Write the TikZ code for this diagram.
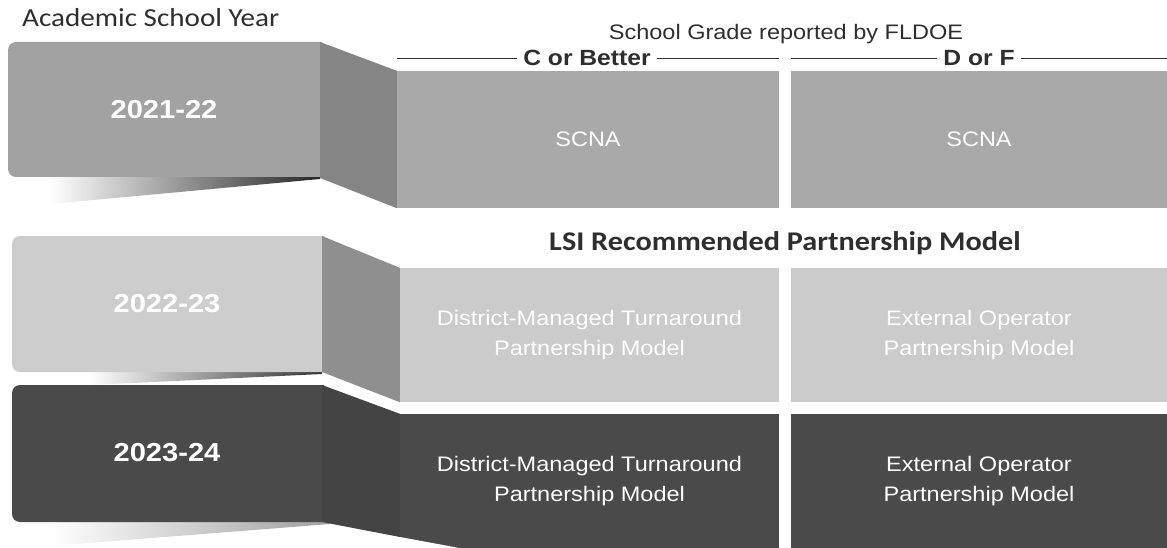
\documentclass[tikz,border=0pt]{standalone}
\usepackage{fontspec}
\newfontfamily\arialx[FakeStretch=1.12]{Liberation Sans}
\newfontfamily\calx[FakeStretch=1.12]{Carlito}
\usetikzlibrary{calc}

\definecolor{rowAbox}{HTML}{A2A2A2}
\definecolor{rowAcell}{HTML}{A9A9A9}
\definecolor{rowAfold}{HTML}{858585}
\definecolor{rowBbox}{HTML}{CDCDCD}
\definecolor{rowBcell}{HTML}{CBCBCB}
\definecolor{rowBfold}{HTML}{8F8F8F}
\definecolor{rowCbox}{HTML}{4A4A4A}
\definecolor{rowCfold}{HTML}{444444}
\definecolor{inkgrey}{HTML}{2E2E2E}

\begin{document}
\begin{tikzpicture}[x=1pt,y=-1pt,
  cellbox/.style={rectangle, inner sep=0pt, align=center, text=white,
    font=\arialx\fontsize{21}{30}\selectfont},
  yearlbl/.style={inner sep=0pt, text=white,
    font=\arialx\bfseries\fontsize{26}{30}\selectfont},
  gradehead/.style={anchor=base, inner xsep=6pt, inner ysep=0pt, text=inkgrey,
    font=\arialx\bfseries\fontsize{22}{25}\selectfont},
  headline/.style={draw=inkgrey, line width=0.9pt}]

\useasboundingbox (0,0) rectangle (1167,548);

% headings
\node[anchor=base west, inner sep=0pt, text=inkgrey,
  font=\calx\fontsize{26}{30}\selectfont] (asy) at (22,27) {Academic School Year};
\node[anchor=base, inner sep=0pt, text=inkgrey,
  font=\arialx\fontsize{21}{25}\selectfont] (sg) at (786,40) {School Grade reported by FLDOE};
\node[anchor=base, inner sep=0pt, text=inkgrey,
  font=\calx\bfseries\fontsize{27}{30}\selectfont] (lsi) at (785,250) {LSI Recommended Partnership Model};

% soft shadows under the year ribbons
\shade[left color=white, middle color=gray!70, right color=black!85]
  (50,176) -- (320,176) -- (320,179) -- (50,204) -- cycle;
\shade[left color=white, middle color=gray!80, right color=black!80]
  (90,371) -- (322,371) -- (322,374) -- (90,385) -- cycle;
\shade[left color=white, middle color=gray!35, right color=gray!75]
  (50,521) -- (330,521) -- (330,524) -- (50,546) -- cycle;

% year ribbons
\fill[rowAbox] (322,42) [rounded corners=8pt] -- (8,42) -- (8,177) [sharp corners] -- (322,177) -- cycle;
\fill[rowBbox] (324,236) [rounded corners=8pt] -- (12,236) -- (12,372) [sharp corners] -- (324,372) -- cycle;
\fill[rowCbox] (324,385) [rounded corners=8pt] -- (12,385) -- (12,522) [sharp corners] -- (324,522) -- cycle;

% grade cells
\node[cellbox, fill=rowAcell, minimum width=382pt, minimum height=137pt] (c11) at (588,139.5) {SCNA};
\node[cellbox, fill=rowAcell, minimum width=376pt, minimum height=137pt] (c12) at (979,139.5) {SCNA};
\node[cellbox, fill=rowBcell, minimum width=379pt, minimum height=134pt] (c21) at (589.5,335) {District-Managed Turnaround\\Partnership Model};
\node[cellbox, fill=rowBcell, minimum width=376pt, minimum height=134pt] (c22) at (979,335) {External Operator\\Partnership Model};
\node[cellbox, fill=rowCbox, minimum width=379pt, minimum height=134pt] (c31) at (589.5,481) {District-Managed Turnaround\\Partnership Model};
\node[cellbox, fill=rowCbox, minimum width=376pt, minimum height=134pt] (c32) at (979,481) {External Operator\\Partnership Model};

% folded parts of the ribbons
\fill[rowAfold] (320,42) -- (c11.north west) -- (c11.south west) -- (320,178) -- cycle;
\fill[rowBfold] (322,236) -- (c21.north west) -- (c21.south west) -- (322,372) -- cycle;
\fill[rowCfold] (322,385) -- (c31.north west) -- (400,537) -- (322,522) -- cycle;
\fill[white] (400,537) -- (462,548.5) -- (400,548.5) -- cycle;

% year labels
\node[yearlbl] (y1) at (164,110) {2021-22};
\node[yearlbl] (y2) at (167,304) {2022-23};
\node[yearlbl] (y3) at (167,453) {2023-24};

% grade headings with rules
\node[gradehead] (cob) at (587,66) {C or Better};
\node[gradehead] (dof) at (979,66) {D or F};
\draw[headline] (cob.west) -- (cob.west -| c11.west);
\draw[headline] (cob.east) -- (cob.east -| c11.east);
\draw[headline] (dof.west) -- (dof.west -| c12.west);
\draw[headline] (dof.east) -- (dof.east -| c12.east);

\end{tikzpicture}
\end{document}
